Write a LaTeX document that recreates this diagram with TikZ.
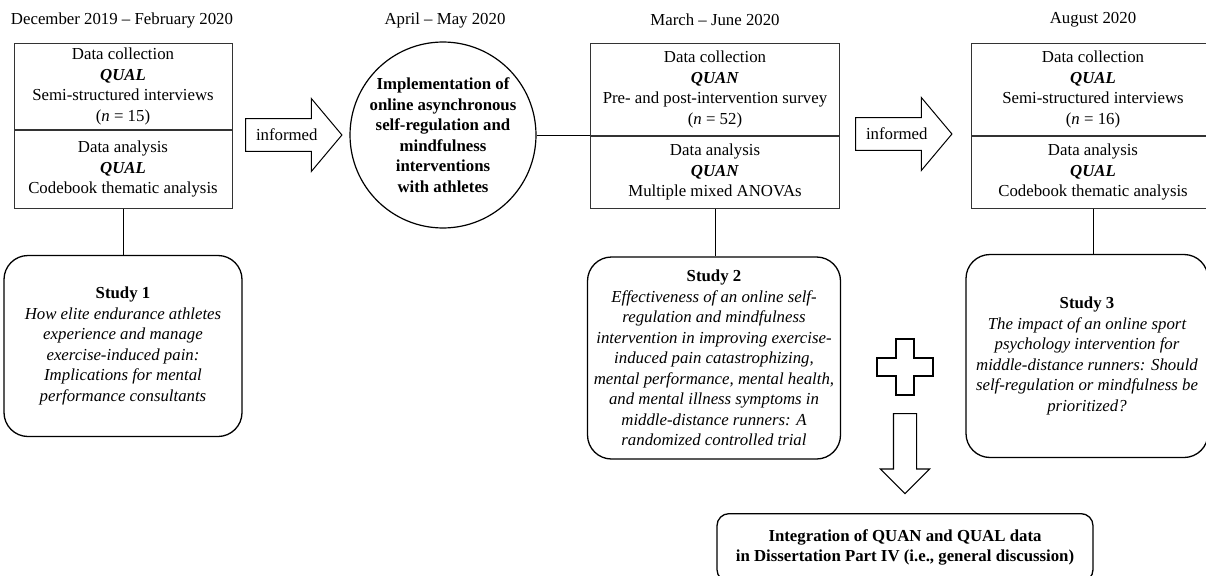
\documentclass[tikz,border=0pt]{standalone}
\usepackage{fontspec}
\setmainfont{Liberation Serif}
\usepackage{tikz}
\usetikzlibrary{shapes.arrows, calc}

\begin{document}
\begin{tikzpicture}[x=1pt, y=-1pt,
	every node/.style={font=\fontsize{16.8}{20.5}\selectfont},
	databox/.style={rectangle, draw=black!80, line width=0.8pt, align=center, inner sep=0pt},
	studybox/.style={rectangle, draw=black, line width=1.3pt, rounded corners=24pt, align=center, inner sep=0pt,
		font=\fontsize{16.8}{20.5}\selectfont\itshape},
	informarrow/.style={single arrow, draw=black, line width=1pt, single arrow head extend=20pt,
		single arrow tip angle=100, minimum height=96pt, inner sep=10pt, anchor=tail},
	plusmark/.style={draw=black, line width=1.1pt}]

	\useasboundingbox (0,0) rectangle (1206,575);

	% time line
	\node (date1) at (122,20) {December 2019 -- February 2020};
	\node (date2) at (445,20) {April -- May 2020};
	\node (date3) at (715,20) {March -- June 2020};
	\node (date4) at (1093,20) {August 2020};

	\node [databox, minimum width=218pt, minimum height=86pt, anchor=north] (coll1) at (123,43)
		{Data collection\\\textbf{\textit{QUAL}}\\Semi-structured interviews\\(\textit{n} = 15)};
	\node [databox, minimum width=218pt, minimum height=78pt, anchor=north] (ana1) at (coll1.south)
		{Data analysis\\\textbf{\textit{QUAL}}\\Codebook thematic analysis};

	\node [informarrow] (inf1) at (245,135) {informed};

	\node [circle, draw=black, line width=1.2pt, minimum size=184pt, inner sep=0pt, align=center,
		font=\fontsize{16.8}{20.5}\selectfont\bfseries] (impl) at (443,135)
		{Implementation of\\online asynchronous\\self-regulation and\\mindfulness\\interventions\\with athletes};

	\node [databox, minimum width=249pt, minimum height=92pt, anchor=north] (coll2) at (715,43)
		{Data collection\\\textbf{\textit{QUAN}}\\Pre- and post-intervention survey\\(\textit{n} = 52)};
	\node [databox, minimum width=249pt, minimum height=72pt, anchor=north] (ana2) at (coll2.south)
		{Data analysis\\\textbf{\textit{QUAN}}\\Multiple mixed ANOVAs};

	\node [informarrow] (inf2) at (855,134) {informed};

	\node [databox, minimum width=244pt, minimum height=92pt, anchor=north] (coll3) at (1093,43)
		{Data collection\\\textbf{\textit{QUAL}}\\Semi-structured interviews\\(\textit{n} = 16)};
	\node [databox, minimum width=244pt, minimum height=72pt, anchor=north] (ana3) at (coll3.south)
		{Data analysis\\\textbf{\textit{QUAL}}\\Codebook thematic analysis};

	\node [studybox, minimum width=238pt, minimum height=181pt] (study1) at (123,346)
		{\textbf{\upshape Study 1}\\How elite endurance athletes\\experience and manage\\exercise-induced pain:\\Implications for mental\\performance consultants};
	\node [studybox, minimum width=253pt, minimum height=202pt] (study2) at (714,358)
		{\textbf{\upshape Study 2}\\Effectiveness of an online self-\\regulation and mindfulness\\intervention in improving exercise-\\induced pain catastrophizing,\\mental performance, mental health,\\and mental illness symptoms in\\middle-distance runners: A\\randomized controlled trial};
	\node [studybox, minimum width=242pt, minimum height=203pt] (study3) at (1087,356)
		{\textbf{\upshape Study 3}\\The impact of an online sport\\psychology intervention for\\middle-distance runners: Should\\self-regulation or mindfulness be\\prioritized?};

	\draw [plusmark, shift={(905,367)}] (-9,-28) -- (9,-28) -- (9,-9) -- (28,-9) -- (28,9) -- (9,9)
		-- (9,28) -- (-9,28) -- (-9,9) -- (-28,9) -- (-28,-9) -- (-9,-9) -- cycle;
	\node [single arrow, draw=black, line width=1.1pt, shape border rotate=270, minimum height=80pt,
		inner sep=11pt, single arrow head extend=13pt, single arrow tip angle=90, anchor=tail] (down) at (905,413) {};

	\node [rectangle, draw=black, line width=1.3pt, rounded corners=12pt, align=center, minimum width=376pt,
		minimum height=68pt, anchor=north, font=\fontsize{16.8}{20.5}\selectfont\bfseries] (integ) at (905,513)
		{Integration of QUAN and QUAL data\\in Dissertation Part IV (i.e., general discussion)};

	\draw [line width=1pt] (ana1.south) -- (study1.north);
	\draw [line width=1pt] (ana2.south) -- (ana2.south |- study2.north);
	\draw [line width=1pt] (ana3.south) -- (ana3.south |- study3.north);
	\draw [line width=1pt] (impl.east) -- (impl.east -| coll2.west);

\end{tikzpicture}
\end{document}
